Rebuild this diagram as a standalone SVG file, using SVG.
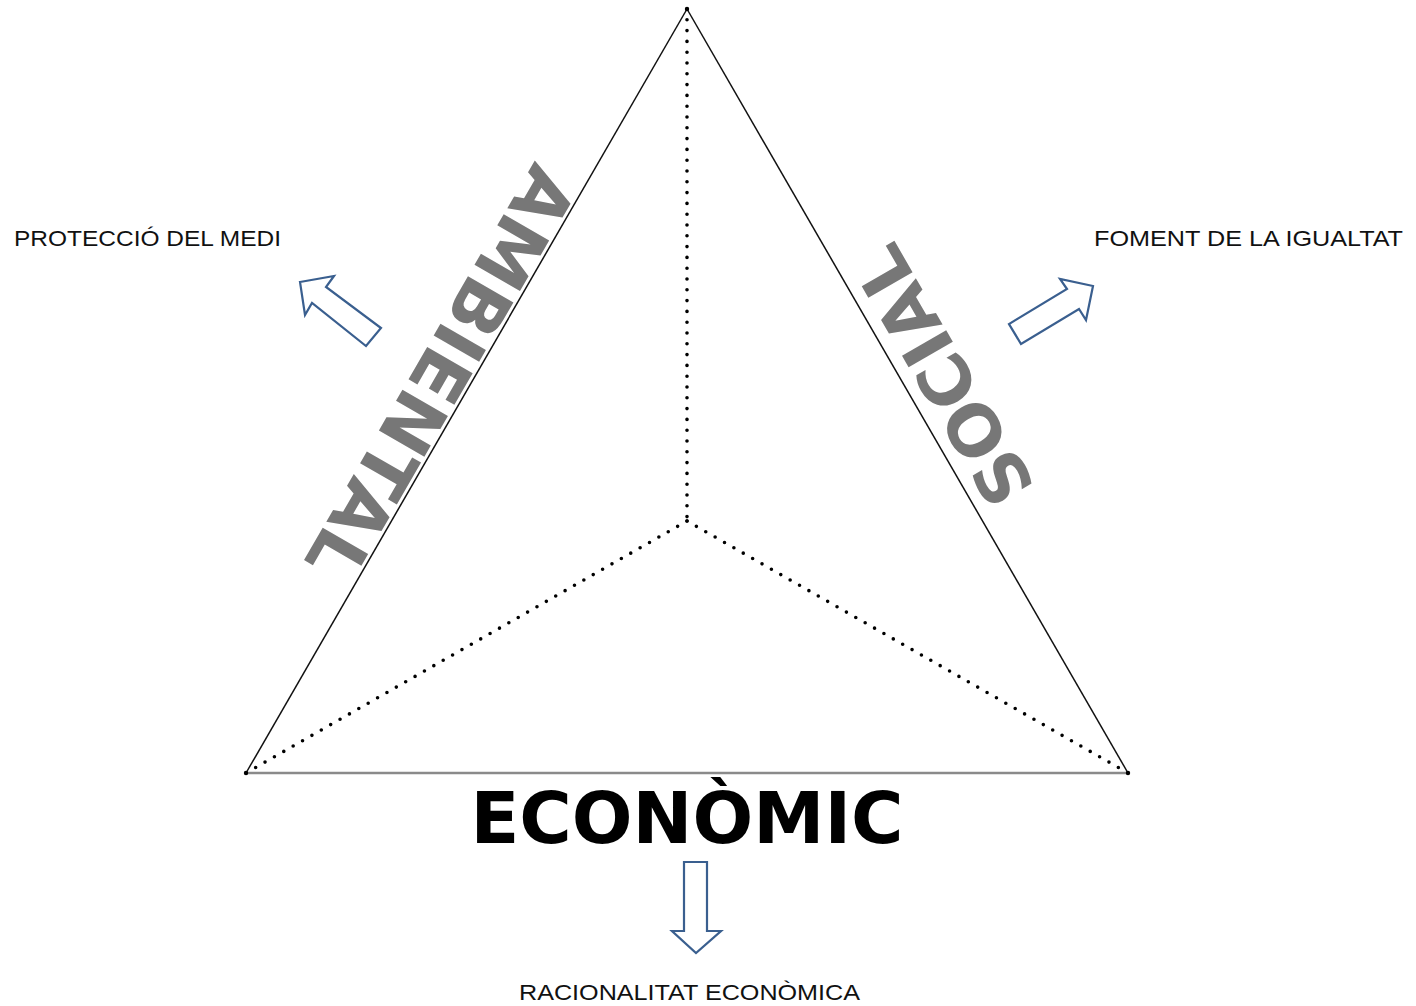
<svg xmlns="http://www.w3.org/2000/svg" width="1416" height="1006" viewBox="0 0 1416 1006">
<style>
.side{stroke:#111;stroke-width:1.5;fill:none}
.base{stroke:#8a8a8a;stroke-width:2.5;fill:none}
.dots{stroke:#000;stroke-width:3.6;stroke-linecap:round;stroke-dasharray:0 10.8;fill:none}
.arrow{fill:#fff;stroke:#3a5f8f;stroke-width:2.2;stroke-linejoin:miter}
.lbl{font-family:"Liberation Sans",Arial,sans-serif;font-size:22px;fill:#111}
.big{font-family:"DejaVu Sans",Verdana,sans-serif;font-weight:bold;font-size:72px;fill:#777}
.eco{font-family:"DejaVu Sans",Verdana,sans-serif;font-weight:bold;font-size:71.5px;fill:#000}
</style>
<rect width="1416" height="1006" fill="#fff"/>
<g id="connectors">
<line class="side" x1="687" y1="9" x2="246" y2="773"/>
<line class="side" x1="687" y1="9" x2="1128" y2="773"/>
<line class="base" x1="246" y1="773" x2="1128" y2="773"/>
<line class="dots" x1="687" y1="9" x2="687" y2="521"/>
<line class="dots" x1="687" y1="521" x2="246" y2="773"/>
<line class="dots" x1="687" y1="521" x2="1128" y2="773"/>
<circle cx="687" cy="9" r="2.2"/>
<circle cx="246" cy="773" r="2.2"/>
<circle cx="1128" cy="773" r="2.2"/>
</g>
<g id="ambiental">
<text class="big" transform="translate(419,361) rotate(120)" text-anchor="middle">AMBIENTAL</text>
</g>
<g id="social">
<text class="big" style="font-size:70px" transform="translate(965,363) rotate(240)" text-anchor="middle">SOCIAL</text>
</g>
<g id="economic">
<text class="eco" x="687" y="843" text-anchor="middle">ECONÒMIC</text>
</g>
<g id="arrow-medi">
<polygon class="arrow" points="300,282 334,276 326,287 381,328 366,346 312,303 305,315"/>
</g>
<g id="arrow-igualtat">
<polygon class="arrow" points="1093,286 1060,279 1067,289 1009,324 1021,344 1079,309 1086,320"/>
</g>
<g id="arrow-racionalitat">
<polygon class="arrow" points="684,862 707,862 707,931 721,931 696,953 672,931 684,931"/>
</g>
<g id="label-medi">
<text class="lbl" x="14" y="246" textLength="267" lengthAdjust="spacingAndGlyphs">PROTECCIÓ DEL MEDI</text>
</g>
<g id="label-igualtat">
<text class="lbl" x="1094" y="246" textLength="309" lengthAdjust="spacingAndGlyphs">FOMENT DE LA IGUALTAT</text>
</g>
<g id="label-racionalitat">
<text class="lbl" x="519" y="1000" textLength="341" lengthAdjust="spacingAndGlyphs">RACIONALITAT ECONÒMICA</text>
</g>
</svg>
